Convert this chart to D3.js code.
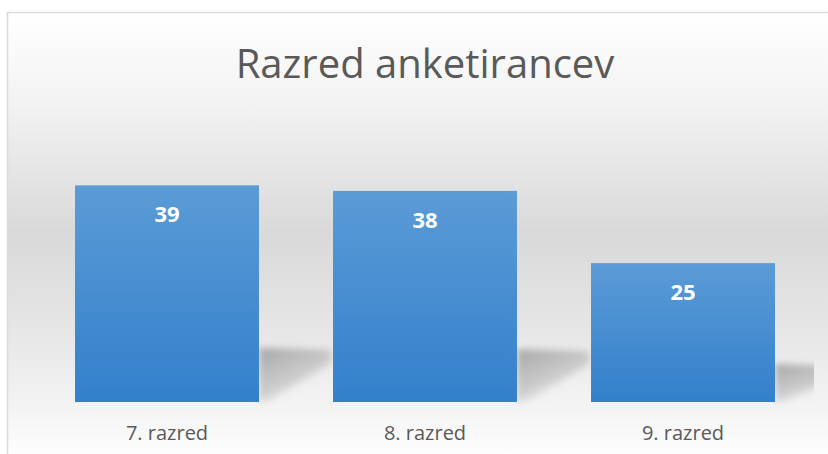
<!DOCTYPE html>
<html>
<head>
<meta charset="utf-8">
<script src="https://cdn.jsdelivr.net/npm/d3@7"></script>
<style>
html,body{margin:0;padding:0;background:#ffffff;}
svg{display:block;}
</style>
</head>
<body>
<div id="chart"></div>
<script>
const title = "Razred anketirancev";
const categories = ["7. razred", "8. razred", "9. razred"];
const values = [39, 38, 25];

const W = 828, H = 454;
const svg = d3.select("#chart").append("svg").attr("width", W).attr("height", H);
const defs = svg.append("defs");

// background gradient
const bg = defs.append("linearGradient").attr("id", "bg")
  .attr("gradientUnits", "userSpaceOnUse").attr("x1", 0).attr("x2", 0).attr("y1", 12).attr("y2", 454);
[[0, "#ffffff"], [0.2, "#f3f3f3"], [0.5, "#d9d9d9"], [0.72, "#e6e6e6"], [0.9, "#f4f4f4"], [1, "#fdfdfd"]]
  .forEach(([o, c]) => bg.append("stop").attr("offset", o).attr("stop-color", c));

const barGrad = defs.append("linearGradient").attr("id", "barGrad")
  .attr("x1", 0).attr("x2", 0).attr("y1", 0).attr("y2", 1);
barGrad.append("stop").attr("offset", 0).attr("stop-color", "#5b9bd6");
barGrad.append("stop").attr("offset", 1).attr("stop-color", "#3380cb");

const shGrad = defs.append("linearGradient").attr("id", "shGrad")
  .attr("x1", 0).attr("x2", 0.6).attr("y1", 0.1).attr("y2", 1);
shGrad.append("stop").attr("offset", 0).attr("stop-color", "#a0a0a0").attr("stop-opacity", 0.85);
shGrad.append("stop").attr("offset", 0.55).attr("stop-color", "#b0b0b0").attr("stop-opacity", 0.6);
shGrad.append("stop").attr("offset", 1).attr("stop-color", "#d0d0d0").attr("stop-opacity", 0.1);

const blur = defs.append("filter").attr("id", "blur")
  .attr("x", "-30%").attr("y", "-30%").attr("width", "160%").attr("height", "160%");
blur.append("feGaussianBlur").attr("stdDeviation", 3.5);

const clip = defs.append("clipPath").attr("id", "plotClip");
clip.append("rect").attr("x", 8).attr("y", 13).attr("width", 806).attr("height", 440);

// chart area
svg.append("rect").attr("x", 7.5).attr("y", 12.5).attr("width", 840).attr("height", 460)
  .attr("fill", "url(#bg)").attr("stroke", "#d9d9d9").attr("stroke-width", 1.5);

// scales
const x = d3.scaleBand().domain(categories).range([38, 812])
  .paddingInner(0.287).paddingOuter(0.1435);
const y = d3.scaleLinear().domain([0, 45]).range([402, 152]);

// shadows
const shadows = svg.append("g").attr("clip-path", "url(#plotClip)");
categories.forEach((c, i) => {
  const r = x(c) + x.bandwidth();
  const bottom = y(0);
  const bh = bottom - y(values[i]);
  const hs = Math.max(38, bh * 0.25);
  const w = 72;
  const y0 = bottom - hs;
  const pts = [[r, y0], [r + w, y0 + 2], [r + w, y0 + hs * 0.3], [r + 8, bottom], [r, bottom]];
  shadows.append("path")
    .attr("d", d3.line()(pts) + "Z")
    .attr("fill", "url(#shGrad)")
    .attr("filter", "url(#blur)");
});

// bars
svg.append("g").selectAll("rect").data(values).join("rect")
  .attr("x", (d, i) => x(categories[i]))
  .attr("y", d => y(d))
  .attr("width", x.bandwidth())
  .attr("height", d => y(0) - y(d))
  .attr("fill", "url(#barGrad)");

// value labels
svg.append("g").selectAll("text").data(values).join("text")
  .attr("x", (d, i) => x(categories[i]) + x.bandwidth() / 2)
  .attr("y", d => y(d) + 37)
  .attr("text-anchor", "middle")
  .attr("font-family", "'Open Sans', sans-serif")
  .attr("font-weight", "bold")
  .attr("font-size", 22)
  .attr("fill", "#ffffff")
  .text(d => d);

// category axis (no line/ticks)
const xAxis = svg.append("g").attr("transform", `translate(0,${y(0)})`)
  .call(d3.axisBottom(x).tickSize(0).tickPadding(0));
xAxis.select(".domain").remove();
xAxis.selectAll("text")
  .attr("dy", null)
  .attr("y", 38)
  .attr("font-family", "'Open Sans', sans-serif")
  .attr("font-size", 20)
  .attr("fill", "#595959");

// title
svg.append("text")
  .attr("x", 425).attr("y", 78)
  .attr("text-anchor", "middle")
  .attr("font-family", "'Open Sans', sans-serif")
  .attr("font-size", 40)
  .attr("fill", "#595959")
  .text(title);
</script>
</body>
</html>
